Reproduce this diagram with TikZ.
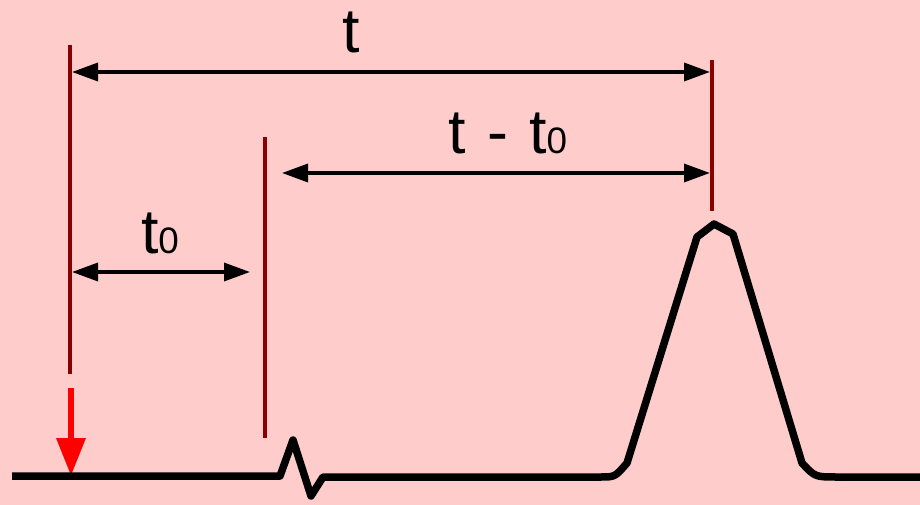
\documentclass[tikz,border=0pt]{standalone}
\usepackage{fontspec}
\usetikzlibrary{arrows.meta}
\newfontfamily\lblfont{Liberation Sans}
\definecolor{bg}{HTML}{FFCCCC}
\definecolor{mark}{HTML}{880000}
\definecolor{inj}{HTML}{FF0000}
\newcommand{\tsub}[1]{{\fontsize{37}{37}\selectfont #1}}
\newcommand{\gap}{\hspace{21bp}}

\begin{document}
\begin{tikzpicture}[
  x=1bp, y=-1bp,
  every node/.style={inner sep=0pt, outer sep=0pt, text=black},
  lbl/.style={anchor=base, font=\lblfont\fontsize{63}{65}\selectfont},
  marker/.style={draw=mark, line width=3.5bp},
  span/.style={{Triangle[length=26bp,width=18bp]}-{Triangle[length=26bp,width=18bp]},
               line width=3.5bp},
  inject/.style={-{Triangle[length=38bp,width=28bp]}, draw=inj, line width=6.5bp},
  trace/.style={line width=7.5bp, line join=round},
]

% ---------------------------------------------------------------- canvas
\fill[bg] (0,0) rectangle (920,505);
\useasboundingbox (0,0) rectangle (920,505);

% ---------------------------------------------------------------- geometry
\def\xa{70}    % injection
\def\xb{265}   % dead time
\def\xc{712}   % peak top
\def\ya{72}    % row of t
\def\yb{173}   % row of t - t0
\def\yc{272}   % row of t0

% ---------------------------------------------------------------- markers
\coordinate (Atop) at (\xa,45);
\coordinate (Abot) at (\xa,374);
\coordinate (Btop) at (\xb,137);
\coordinate (Bbot) at (\xb,438);
\coordinate (Ctop) at (\xc,60);
\coordinate (Cbot) at (\xc,211);

\draw[marker] (Atop) -- (Abot);
\draw[marker] (Btop) -- (Bbot);
\draw[marker] (Ctop) -- (Cbot);

% ---------------------------------------------------------------- spans
\coordinate (tL)  at (\xa+2,\ya);
\coordinate (tR)  at (\xc-2,\ya);
\coordinate (dL)  at (282,\yb);
\coordinate (dR)  at (\xc-2,\yb);
\coordinate (zL)  at (\xa+2,\yc);
\coordinate (zR)  at (250,\yc);

\draw[span] (tL) -- (tR);
\draw[span] (dL) -- (dR);
\draw[span] (zL) -- (zR);

\node[lbl] (Lt)  at (351,53)  {t};
\node[lbl] (Ld)  at (508,154) {t\gap-\gap t\tsub{0}};
\node[lbl] (Lz)  at (160,254) {t\tsub{0}};

% ---------------------------------------------------------------- injection
\coordinate (inj0) at (\xa+1,388);
\coordinate (inj1) at (\xa+1,476);
\draw[inject] (inj0) -- (inj1);

% ---------------------------------------------------------------- trace
\draw[trace] (12,476) -- (280,476) -- (293,440) -- (311,496) -- (323,477)
  -- (600,477) .. controls (615,477) .. (627,463) -- (697,237)
  -- (714,224) -- (733,234) -- (802,463) .. controls (815,477) .. (837,477)
  -- (920,477);

\end{tikzpicture}
\end{document}
